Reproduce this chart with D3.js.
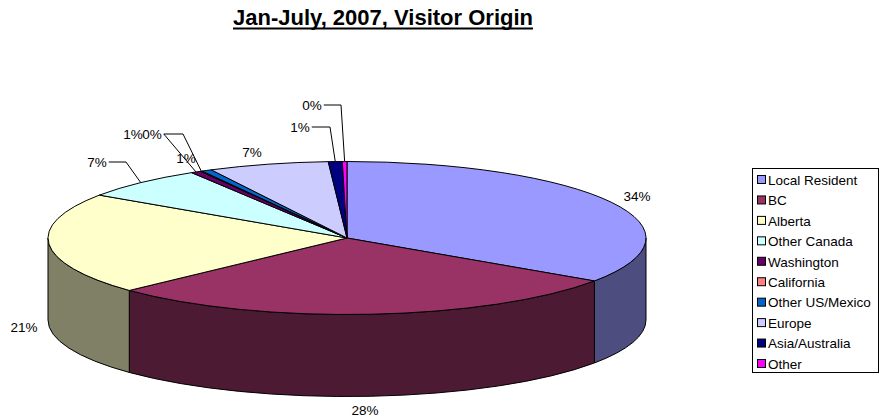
<!DOCTYPE html>
<html>
<head>
<meta charset="utf-8">
<script src="https://cdn.jsdelivr.net/npm/d3@7"></script>
<style>
  body { margin: 0; background: #fff; }
  text { font-family: Arial, "Liberation Sans", sans-serif; fill: #000; }
</style>
</head>
<body>
<svg id="chart" width="882" height="417"></svg>
<script>
// values (percent of visitors)
const categories = ["Local Resident", "BC", "Alberta", "Other Canada", "Washington",
  "California", "Other US/Mexico", "Europe", "Asia/Australia", "Other"];
const shares = [34.49, 28.49, 21.49, 6.83, 0.55, 0.1, 0.55, 6.5, 0.75, 0.25];
const colors = ["#9999FF", "#993366", "#FFFFCC", "#CCFFFF", "#660066",
  "#FF8080", "#0066CC", "#CCCCFF", "#000080", "#FF00FF"];
const title = "Jan-July, 2007, Visitor Origin";

// where Excel put each percent label (layout only)
const labelSpots = [
  {x: 637, y: 196},
  {x: 365, y: 410},
  {x: 24, y: 327},
  {x: 97, y: 162, elbow: 126},
  {x: 133, y: 134, extra: 19},
  {x: 152, y: 134, elbow: 183},
  {x: 186, y: 158, none: true},
  {x: 252, y: 152, none: true},
  {x: 300, y: 127, elbow: 330},
  {x: 312, y: 105, elbow: 341}
];

const svg = d3.select("#chart");
const cx = 347, cy = 238, rx = 299, ry = 76.5, depth = 82;

const pt = (a, dy = 0) => [cx + rx * Math.sin(a), cy - ry * Math.cos(a) + dy];
const arcs = d3.pie().sort(null).value(d => d)(shares);
const fmt = d3.format(".0%");
const total = d3.sum(shares);

function shade(c) {
  const k = d3.rgb(c);
  return d3.rgb(k.r * 0.5, k.g * 0.5, k.b * 0.5).toString();
}

// outer wall, only the front half shows
const walls = svg.append("g");
arcs.forEach((d, i) => {
  const a0 = Math.max(d.startAngle, Math.PI / 2);
  const a1 = Math.min(d.endAngle, Math.PI * 1.5);
  if (a1 <= a0) return;
  const p0 = pt(a0), p1 = pt(a1), q1 = pt(a1, depth), q0 = pt(a0, depth);
  walls.append("path")
    .attr("d", `M${p0}A${rx},${ry} 0 0 1 ${p1}L${q1}A${rx},${ry} 0 0 0 ${q0}Z`)
    .attr("fill", shade(colors[i]))
    .attr("stroke", "#000")
    .attr("stroke-width", 1)
    .attr("stroke-linejoin", "round");
});

// top face
const tops = svg.append("g");
arcs.forEach((d, i) => {
  const p0 = pt(d.startAngle), p1 = pt(d.endAngle);
  const big = d.endAngle - d.startAngle > Math.PI ? 1 : 0;
  tops.append("path")
    .attr("d", `M${cx},${cy}L${p0}A${rx},${ry} 0 ${big} 1 ${p1}Z`)
    .attr("fill", colors[i])
    .attr("stroke", "#000")
    .attr("stroke-width", 1)
    .attr("stroke-linejoin", "round");
});

// percent labels + leader lines
const labels = svg.append("g").attr("font-size", "13.5px");
arcs.forEach((d, i) => {
  const s = labelSpots[i];
  const t = labels.append("text")
    .attr("x", s.x).attr("y", s.y)
    .attr("dy", "0.35em")
    .attr("text-anchor", "middle")
    .text(fmt(d.value / total));
  if (s.none || i < 3) return;
  const w = t.node().getComputedTextLength();
  const mid = (d.startAngle + d.endAngle) / 2;
  const pts = [[s.x + w / 2 + 2 + (s.extra || 0), s.y]];
  if (s.elbow) pts.push([s.elbow, s.y]);
  pts.push(pt(mid));
  labels.append("path")
    .attr("d", d3.line()(pts))
    .attr("fill", "none")
    .attr("stroke", "#000")
    .attr("stroke-width", 1);
});

// title
const tt = svg.append("text")
  .attr("x", 383).attr("y", 25)
  .attr("text-anchor", "middle")
  .attr("font-size", "22px")
  .attr("font-weight", "bold")
  .text(title);
const tw = tt.node().getComputedTextLength();
svg.append("rect")
  .attr("x", 383 - tw / 2).attr("y", 27.5)
  .attr("width", tw).attr("height", 2)
  .attr("fill", "#000");

// legend
const ly = d3.scalePoint().domain(categories).range([180, 364]);
const legend = svg.append("g");
legend.append("rect")
  .attr("x", 752.5).attr("y", 168.5)
  .attr("width", 126).attr("height", 204)
  .attr("fill", "#fff").attr("stroke", "#000");
const items = legend.selectAll("g.item")
  .data(categories)
  .enter().append("g")
  .attr("class", "item")
  .attr("transform", d => `translate(0,${ly(d)})`);
items.append("rect")
  .attr("x", 757.5).attr("y", -4.5)
  .attr("width", 8).attr("height", 8)
  .attr("fill", (d, i) => colors[i])
  .attr("stroke", "#000");
items.append("text")
  .attr("x", 768).attr("dy", "0.35em")
  .attr("font-size", "13.5px")
  .text(d => d);
</script>
</body>
</html>
